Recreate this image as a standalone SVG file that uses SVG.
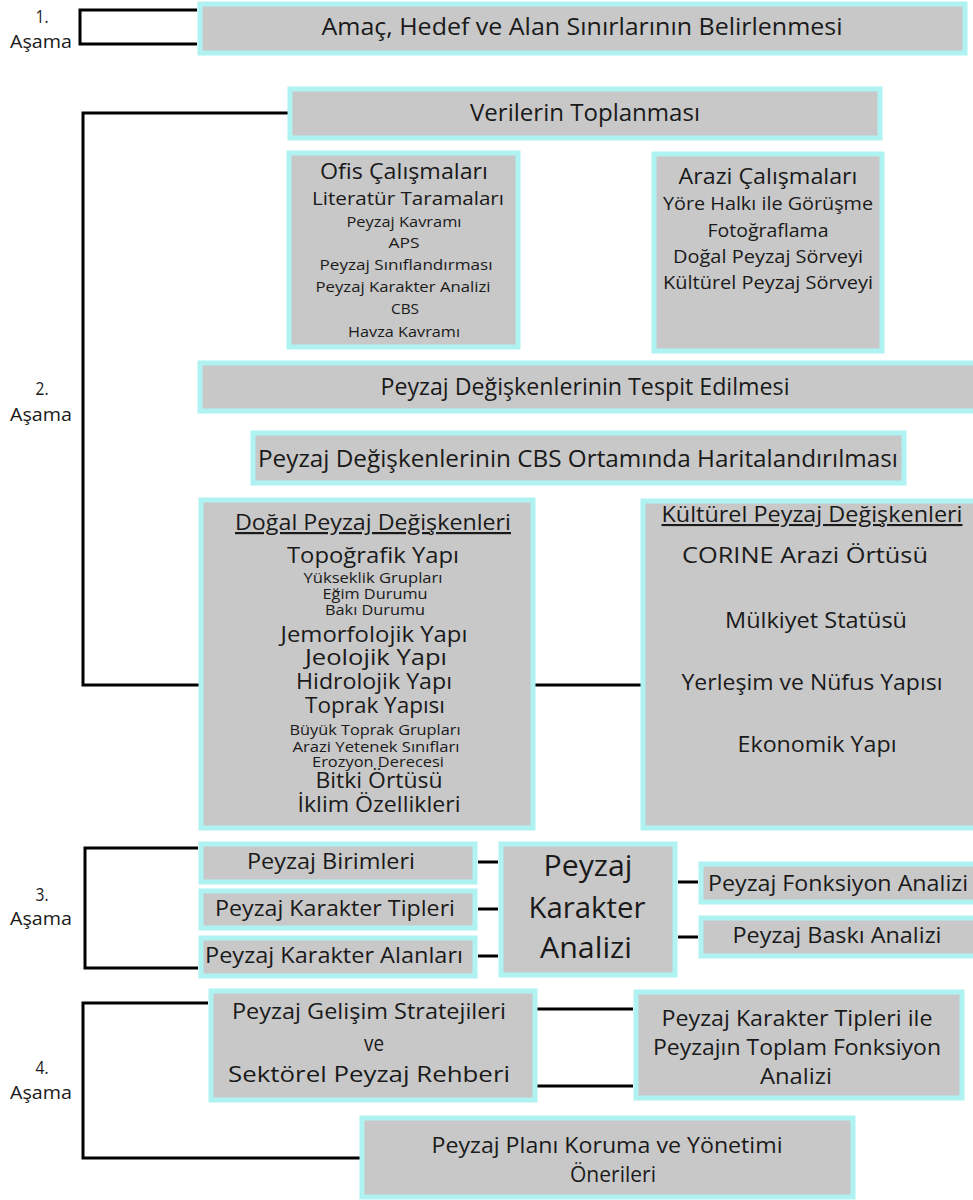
<svg xmlns="http://www.w3.org/2000/svg" width="973" height="1200" viewBox="0 0 973 1200">
<style>
.box{fill:#c8c8c8;stroke:#aef2f2;stroke-width:5}
text{font-family:"Open Sans","Liberation Sans",sans-serif;fill:#1a1a1a;text-anchor:middle}
.lbl{font-size:18px}
.c{fill:none;stroke:#000;stroke-width:3}
</style>
<rect width="973" height="1200" fill="#fff"/>
<g id="connectors">
<polyline class="c" points="197,10 80,10 80,44 197,44"/>
<polyline class="c" points="289,113 83,113 83,685 203,685"/>
<line class="c" x1="533" y1="685" x2="642" y2="685"/>
<polyline class="c" points="198,848 85,848 85,968 198,968"/>
<line class="c" x1="478" y1="862" x2="498" y2="862"/>
<line class="c" x1="478" y1="909" x2="498" y2="909"/>
<line class="c" x1="478" y1="956" x2="498" y2="956"/>
<line class="c" x1="678" y1="882" x2="698" y2="882"/>
<line class="c" x1="678" y1="937" x2="698" y2="937"/>
<polyline class="c" points="208,1003 83,1003 83,1158 360,1158"/>
<line class="c" x1="537" y1="1009" x2="633" y2="1009"/>
<line class="c" x1="537" y1="1086" x2="633" y2="1086"/>
</g>
<g id="labels">
<text class="lbl" x="42" y="23" textLength="13" lengthAdjust="spacingAndGlyphs">1.</text><text class="lbl" x="41" y="48" textLength="62" lengthAdjust="spacingAndGlyphs">Aşama</text>
<text class="lbl" x="42" y="395" textLength="13" lengthAdjust="spacingAndGlyphs">2.</text><text class="lbl" x="41" y="421" textLength="62" lengthAdjust="spacingAndGlyphs">Aşama</text>
<text class="lbl" x="42" y="901" textLength="13" lengthAdjust="spacingAndGlyphs">3.</text><text class="lbl" x="41" y="925" textLength="62" lengthAdjust="spacingAndGlyphs">Aşama</text>
<text class="lbl" x="42" y="1074" textLength="13" lengthAdjust="spacingAndGlyphs">4.</text><text class="lbl" x="41" y="1099" textLength="62" lengthAdjust="spacingAndGlyphs">Aşama</text>
</g>
<g id="n1"><rect class="box" x="200" y="4" width="765" height="49"/><text x="582" y="35" font-size="24" textLength="521" lengthAdjust="spacingAndGlyphs">Amaç, Hedef ve Alan Sınırlarının Belirlenmesi</text></g>
<g id="n2"><rect class="box" x="290" y="89" width="590" height="49"/><text x="585" y="121" font-size="23" textLength="230" lengthAdjust="spacingAndGlyphs">Verilerin Toplanması</text></g>
<g id="n3"><rect class="box" x="289" y="153" width="229" height="194"/>
<text x="404" y="179" font-size="21" textLength="168" lengthAdjust="spacingAndGlyphs">Ofis Çalışmaları</text>
<text x="408" y="205" font-size="19" textLength="192" lengthAdjust="spacingAndGlyphs">Literatür Taramaları</text>
<text x="404" y="227" font-size="15" textLength="115" lengthAdjust="spacingAndGlyphs">Peyzaj Kavramı</text>
<text x="404" y="248" font-size="15" textLength="31" lengthAdjust="spacingAndGlyphs">APS</text>
<text x="406" y="270" font-size="15" textLength="173" lengthAdjust="spacingAndGlyphs">Peyzaj Sınıflandırması</text>
<text x="403" y="292" font-size="15" textLength="175" lengthAdjust="spacingAndGlyphs">Peyzaj Karakter Analizi</text>
<text x="405" y="314" font-size="15" textLength="28" lengthAdjust="spacingAndGlyphs">CBS</text>
<text x="404" y="337" font-size="15" textLength="112" lengthAdjust="spacingAndGlyphs">Havza Kavramı</text>
</g>
<g id="n4"><rect class="box" x="654" y="154" width="228" height="197"/>
<text x="768" y="184" font-size="21" textLength="179" lengthAdjust="spacingAndGlyphs">Arazi Çalışmaları</text>
<text x="768" y="210" font-size="19" textLength="210" lengthAdjust="spacingAndGlyphs">Yöre Halkı ile Görüşme</text>
<text x="768" y="237" font-size="19" textLength="121" lengthAdjust="spacingAndGlyphs">Fotoğraflama</text>
<text x="768" y="263" font-size="19" textLength="190" lengthAdjust="spacingAndGlyphs">Doğal Peyzaj Sörveyi</text>
<text x="768" y="289" font-size="19" textLength="210" lengthAdjust="spacingAndGlyphs">Kültürel Peyzaj Sörveyi</text>
</g>
<g id="n5"><rect class="box" x="200" y="363" width="780" height="48"/><text x="585" y="395" font-size="23" textLength="409" lengthAdjust="spacingAndGlyphs">Peyzaj Değişkenlerinin Tespit Edilmesi</text></g>
<g id="n6"><rect class="box" x="253" y="433" width="651" height="50"/><text x="578" y="467" font-size="23" textLength="640" lengthAdjust="spacingAndGlyphs">Peyzaj Değişkenlerinin CBS Ortamında Haritalandırılması</text></g>
<g id="n7"><rect class="box" x="201" y="500" width="332" height="328"/>
<text x="373" y="530" font-size="22" text-decoration="underline" textLength="276" lengthAdjust="spacingAndGlyphs">Doğal Peyzaj Değişkenleri</text>
<text x="373" y="563" font-size="22" textLength="172" lengthAdjust="spacingAndGlyphs">Topoğrafik Yapı</text>
<text x="373" y="583" font-size="14" textLength="139" lengthAdjust="spacingAndGlyphs">Yükseklik Grupları</text>
<text x="375" y="599" font-size="14" textLength="105" lengthAdjust="spacingAndGlyphs">Eğim Durumu</text>
<text x="375" y="615" font-size="14" textLength="100" lengthAdjust="spacingAndGlyphs">Bakı Durumu</text>
<text x="374" y="642" font-size="22" textLength="187" lengthAdjust="spacingAndGlyphs">Jemorfolojik Yapı</text>
<text x="376" y="665" font-size="22" textLength="142" lengthAdjust="spacingAndGlyphs">Jeolojik Yapı</text>
<text x="374" y="689" font-size="22" textLength="156" lengthAdjust="spacingAndGlyphs">Hidrolojik Yapı</text>
<text x="375" y="713" font-size="22" textLength="140" lengthAdjust="spacingAndGlyphs">Toprak Yapısı</text>
<text x="375" y="735" font-size="14" textLength="171" lengthAdjust="spacingAndGlyphs">Büyük Toprak Grupları</text>
<text x="376" y="752" font-size="14" textLength="167" lengthAdjust="spacingAndGlyphs">Arazi Yetenek Sınıfları</text>
<text x="378" y="767" font-size="14" textLength="132" lengthAdjust="spacingAndGlyphs">Erozyon Derecesi</text>
<text x="379" y="788" font-size="22" textLength="127" lengthAdjust="spacingAndGlyphs">Bitki Örtüsü</text>
<text x="379" y="812" font-size="22" textLength="163" lengthAdjust="spacingAndGlyphs">İklim Özellikleri</text>
</g>
<g id="n8"><rect class="box" x="643" y="501" width="340" height="327"/>
<text x="812" y="522" font-size="21" text-decoration="underline" textLength="301" lengthAdjust="spacingAndGlyphs">Kültürel Peyzaj Değişkenleri</text>
<text x="805" y="563" font-size="21" textLength="246" lengthAdjust="spacingAndGlyphs">CORINE Arazi Örtüsü</text>
<text x="816" y="628" font-size="21" textLength="182" lengthAdjust="spacingAndGlyphs">Mülkiyet Statüsü</text>
<text x="812" y="690" font-size="21" textLength="261" lengthAdjust="spacingAndGlyphs">Yerleşim ve Nüfus Yapısı</text>
<text x="817" y="752" font-size="21" textLength="159" lengthAdjust="spacingAndGlyphs">Ekonomik Yapı</text>
</g>
<g id="n9"><rect class="box" x="201" y="844" width="274" height="38"/><text x="331" y="869" font-size="21" textLength="168" lengthAdjust="spacingAndGlyphs">Peyzaj Birimleri</text></g>
<g id="n10"><rect class="box" x="201" y="891" width="274" height="37"/><text x="335" y="916" font-size="21" textLength="240" lengthAdjust="spacingAndGlyphs">Peyzaj Karakter Tipleri</text></g>
<g id="n11"><rect class="box" x="201" y="938" width="274" height="38"/><text x="334" y="963" font-size="21" textLength="258" lengthAdjust="spacingAndGlyphs">Peyzaj Karakter Alanları</text></g>
<g id="n12"><rect class="box" x="501" y="844" width="174" height="131"/>
<text x="588" y="876" font-size="30" textLength="89" lengthAdjust="spacingAndGlyphs">Peyzaj</text>
<text x="587" y="918" font-size="30" textLength="117" lengthAdjust="spacingAndGlyphs">Karakter</text>
<text x="586" y="958" font-size="30" textLength="92" lengthAdjust="spacingAndGlyphs">Analizi</text>
</g>
<g id="n13"><rect class="box" x="701" y="864" width="280" height="38"/><text x="838" y="891" font-size="21" textLength="260" lengthAdjust="spacingAndGlyphs">Peyzaj Fonksiyon Analizi</text></g>
<g id="n14"><rect class="box" x="701" y="918" width="280" height="38"/><text x="837" y="943" font-size="21" textLength="209" lengthAdjust="spacingAndGlyphs">Peyzaj Baskı Analizi</text></g>
<g id="n15"><rect class="box" x="211" y="991" width="324" height="109"/>
<text x="369" y="1019" font-size="21" textLength="274" lengthAdjust="spacingAndGlyphs">Peyzaj Gelişim Stratejileri</text>
<text x="374" y="1051" font-size="21" textLength="20" lengthAdjust="spacingAndGlyphs">ve</text>
<text x="369" y="1082" font-size="21" textLength="282" lengthAdjust="spacingAndGlyphs">Sektörel Peyzaj Rehberi</text>
</g>
<g id="n16"><rect class="box" x="636" y="992" width="326" height="106"/>
<text x="797" y="1026" font-size="21" textLength="271" lengthAdjust="spacingAndGlyphs">Peyzaj Karakter Tipleri ile</text>
<text x="797" y="1055" font-size="21" textLength="288" lengthAdjust="spacingAndGlyphs">Peyzajın Toplam Fonksiyon</text>
<text x="796" y="1084" font-size="21" textLength="72" lengthAdjust="spacingAndGlyphs">Analizi</text>
</g>
<g id="n17"><rect class="box" x="362" y="1118" width="491" height="79"/>
<text x="607" y="1153" font-size="21" textLength="351" lengthAdjust="spacingAndGlyphs">Peyzaj Planı Koruma ve Yönetimi</text>
<text x="613" y="1182" font-size="21" textLength="86" lengthAdjust="spacingAndGlyphs">Önerileri</text>
</g>
</svg>
